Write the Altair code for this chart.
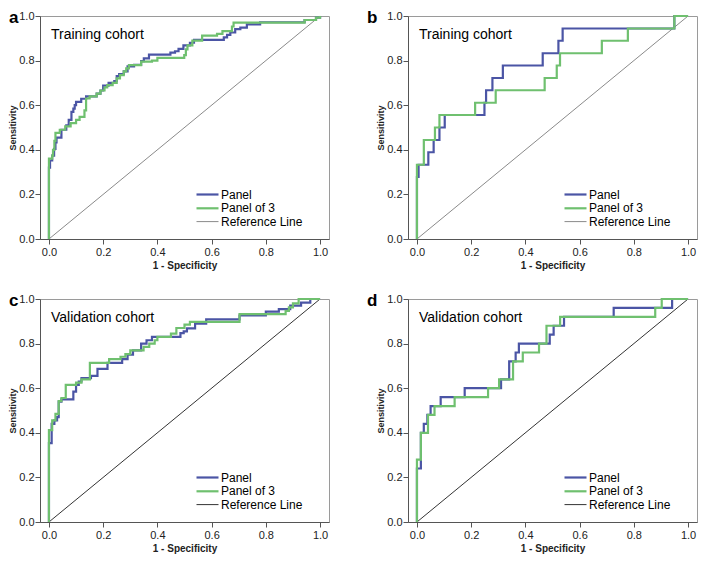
import altair as alt
import pandas as pd

SERIES = ["Panel", "Panel of 3", "Reference Line"]
BLUE = "#4b55a5"
GREEN = "#6fc06f"
REF_GRAY = "#8a8a8a"
REF_DARK = "#333333"

# ---- Panel a: Training cohort ----
a_panel_fpr = [0, 0, 0.004, 0.012, 0.019, 0.024, 0.028, 0.046, 0.064, 0.073, 0.083, 0.09, 0.095, 0.10,
               0.119, 0.137, 0.176, 0.19, 0.20, 0.22, 0.241, 0.25, 0.259, 0.276, 0.29, 0.314, 0.34, 0.35,
               0.369, 0.448, 0.465, 0.478, 0.496, 0.52, 0.535, 0.645, 0.657, 0.669, 0.687, 0.706, 0.73,
               0.779, 0.943, 0.985, 1.0]
a_panel_tpr = [0, 0.32, 0.352, 0.374, 0.404, 0.433, 0.455, 0.49, 0.51, 0.534, 0.57, 0.585, 0.60, 0.615,
               0.629, 0.64, 0.652, 0.666, 0.688, 0.70, 0.708, 0.73, 0.74, 0.752, 0.774, 0.781, 0.798, 0.81,
               0.827, 0.836, 0.842, 0.853, 0.868, 0.88, 0.893, 0.904, 0.915, 0.926, 0.941, 0.948, 0.962,
               0.972, 0.982, 0.993, 1.0]
a_panel3_fpr = [0, 0, 0.012, 0.015, 0.02, 0.024, 0.04, 0.06, 0.08, 0.10, 0.113, 0.131, 0.137, 0.15, 0.176,
                0.19, 0.205, 0.215, 0.235, 0.25, 0.262, 0.276, 0.285, 0.295, 0.34, 0.38, 0.40, 0.499,
                0.505, 0.511, 0.529, 0.565, 0.62, 0.64, 0.675, 0.681, 0.943, 0.985, 1.0]
a_panel3_tpr = [0, 0.36, 0.374, 0.40, 0.44, 0.476, 0.49, 0.505, 0.52, 0.534, 0.548, 0.577, 0.63, 0.64, 0.652,
                0.666, 0.68, 0.69, 0.70, 0.72, 0.735, 0.752, 0.765, 0.78, 0.795, 0.80, 0.812, 0.825,
                0.85, 0.868, 0.89, 0.912, 0.92, 0.932, 0.953, 0.97, 0.982, 0.993, 1.0]

# ---- Panel b: Training cohort ----
b_panel_fpr = [0, 0, 0.006, 0.042, 0.0616, 0.083, 0.1025, 0.249, 0.255, 0.2784, 0.3169, 0.4639, 0.5218,
               0.5374, 0.9494, 1.0]
b_panel_tpr = [0, 0.278, 0.333, 0.389, 0.444, 0.5, 0.556, 0.611, 0.667, 0.722, 0.778, 0.833, 0.889,
               0.944, 1.0, 1.0]
b_panel3_fpr = [0, 0, 0.0254, 0.0664, 0.083, 0.2146, 0.2905, 0.4711, 0.5157, 0.5277, 0.682, 0.778,
                0.9494, 1.0]
b_panel3_tpr = [0, 0.333, 0.444, 0.5, 0.556, 0.611, 0.667, 0.722, 0.778, 0.833, 0.889, 0.944, 1.0, 1.0]

# ---- Panel c: Validation cohort ----
c_panel_fpr = [0, 0, 0.01, 0.02, 0.03, 0.036, 0.046, 0.09, 0.10, 0.11, 0.12, 0.155, 0.179, 0.216, 0.27,
               0.29, 0.31, 0.34, 0.36, 0.38, 0.485, 0.497, 0.509, 0.539, 0.58, 0.703, 0.80, 0.848, 0.89,
               0.93, 0.964, 1.0]
c_panel_tpr = [0, 0.354, 0.44, 0.456, 0.47, 0.54, 0.55, 0.585, 0.615, 0.63, 0.645, 0.655, 0.687, 0.714,
               0.73, 0.75, 0.77, 0.80, 0.815, 0.83, 0.847, 0.855, 0.868, 0.89, 0.909, 0.926, 0.943, 0.955,
               0.97, 0.984, 1.0, 1.0]
c_panel3_fpr = [0, 0, 0.012, 0.024, 0.036, 0.046, 0.062, 0.10, 0.12, 0.151, 0.222, 0.264, 0.282, 0.30,
                0.349, 0.37, 0.39, 0.40, 0.45, 0.47, 0.50, 0.52, 0.703, 0.873, 0.885, 0.90, 0.921, 1.0]
c_panel3_tpr = [0, 0.412, 0.456, 0.485, 0.542, 0.556, 0.615, 0.625, 0.64, 0.714, 0.73, 0.741, 0.753, 0.77,
                0.785, 0.80, 0.815, 0.83, 0.845, 0.87, 0.885, 0.897, 0.932, 0.947, 0.962, 0.98, 1.0, 1.0]

# ---- Panel d: Validation cohort ----
d_panel_fpr = [0, 0, 0.0145, 0.0253, 0.0384, 0.0504, 0.0875, 0.1761, 0.3102, 0.3402, 0.3641, 0.376,
               0.4898, 0.5042, 0.5425, 0.7257, 0.9412, 1.0]
d_panel_tpr = [0, 0.24, 0.40, 0.44, 0.48, 0.52, 0.56, 0.60, 0.64, 0.72, 0.76, 0.80, 0.84, 0.88, 0.92,
               0.96, 1.0, 1.0]
d_panel3_fpr = [0, 0, 0.0145, 0.0408, 0.0648, 0.139, 0.2623, 0.303, 0.3545, 0.3904, 0.4503, 0.4778,
                0.5281, 0.8789, 0.9029, 1.0]
d_panel3_tpr = [0, 0.28, 0.40, 0.48, 0.52, 0.56, 0.60, 0.64, 0.72, 0.76, 0.80, 0.88, 0.92, 0.96, 1.0, 1.0]

ref_fpr = [0.0, 1.0]
ref_tpr = [0.0, 1.0]

TICKS = [0.0, 0.2, 0.4, 0.6, 0.8, 1.0]
XDOM = [-0.033, 1.033]
W, H = 289, 223
FONT = "Liberation Sans"


def curve_df(fpr, tpr, name):
    return pd.DataFrame({"fpr": fpr, "tpr": tpr, "series": name, "ord": list(range(len(fpr)))})


def panel(letter, title, p_fpr, p_tpr, p3_fpr, p3_tpr, ref_color, letter_dx):
    legend = alt.Legend(
        title=None, orient="none", legendX=161, legendY=round(0.798 * H - 6),
        symbolType="M-2.2,0H2.2", symbolSize=100, labelFontSize=12, labelOffset=7,
        rowPadding=0.8, padding=0, labelColor="black", labelFont=FONT,
    )
    color = alt.Color("series:N", scale=alt.Scale(domain=SERIES, range=[BLUE, GREEN, ref_color]),
                      legend=legend)
    sw = alt.StrokeWidth("series:N", scale=alt.Scale(type="ordinal", domain=SERIES, range=[2.2, 2.2, 1]),
                         legend=legend)
    x = alt.X("fpr:Q", scale=alt.Scale(domain=XDOM, nice=False, zero=False),
              axis=alt.Axis(values=TICKS, format=".1f", title="1 - Specificity"))
    y = alt.Y("tpr:Q", scale=alt.Scale(domain=[0, 1], nice=False),
              axis=alt.Axis(values=TICKS, format=".1f", title="Sensitivity"))

    ref = alt.Chart(curve_df(ref_fpr, ref_tpr, "Reference Line")).mark_line().encode(
        x=x, y=y, color=color, strokeWidth=sw, order="ord:Q")
    blue = alt.Chart(curve_df(p_fpr, p_tpr, "Panel")).mark_line(interpolate="step-after").encode(
        x=x, y=y, color=color, strokeWidth=sw, order="ord:Q")
    green = alt.Chart(curve_df(p3_fpr, p3_tpr, "Panel of 3")).mark_line(interpolate="step-after").encode(
        x=x, y=y, color=color, strokeWidth=sw, order="ord:Q")
    ttl = alt.Chart(pd.DataFrame({"t": [title]})).mark_text(
        align="left", baseline="alphabetic", fontSize=14, color="black", font=FONT
    ).encode(x=alt.value(11), y=alt.value(22.5), text="t:N")
    let = alt.Chart(pd.DataFrame({"t": [letter]})).mark_text(
        align="left", baseline="alphabetic", fontSize=17, fontWeight="bold", color="black", font=FONT
    ).encode(x=alt.value(letter_dx), y=alt.value(7), text="t:N")
    return alt.layer(ref, blue, green, ttl, let).properties(width=W, height=H)


pa = panel("a", "Training cohort", a_panel_fpr, a_panel_tpr, a_panel3_fpr, a_panel3_tpr, REF_GRAY, -31)
pb = panel("b", "Training cohort", b_panel_fpr, b_panel_tpr, b_panel3_fpr, b_panel3_tpr, REF_GRAY, -41)
pc = panel("c", "Validation cohort", c_panel_fpr, c_panel_tpr, c_panel3_fpr, c_panel3_tpr, REF_DARK, -31)
pdd = panel("d", "Validation cohort", d_panel_fpr, d_panel_tpr, d_panel3_fpr, d_panel3_tpr, REF_DARK, -41)

chart = alt.concat(
    pa, pb, pc, pdd, columns=2, spacing={"row": 60, "column": 79}, bounds="flush"
).resolve_scale(
    color="independent", strokeWidth="independent"
).properties(
    padding=0
).configure_view(
    stroke="#9a9a9a", strokeWidth=1
).configure_axis(
    grid=False, domainColor="#555555", tickColor="#555555", labelColor="#222222",
    titleColor="#222222", labelFont=FONT, titleFont=FONT, labelFontSize=11, tickSize=5,
    titleFontWeight="bold"
).configure_axisY(
    labelPadding=1, titlePadding=1, titleFontSize=9
).configure_axisX(
    labelPadding=2, titlePadding=3, titleFontSize=10
)

chart.save("out.html", embed_options={"renderer": "svg", "actions": False})
